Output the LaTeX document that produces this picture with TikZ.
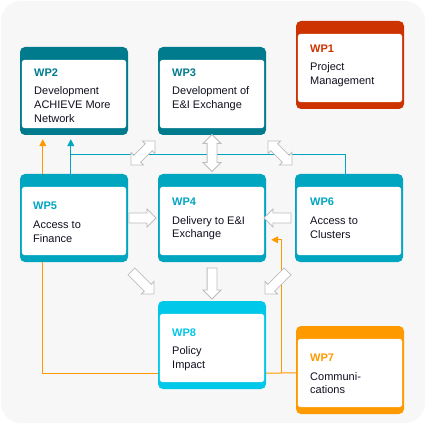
\documentclass[tikz,border=0pt]{standalone}
\usepackage{fontspec}
\setmainfont{Liberation Sans}
\usetikzlibrary{calc,arrows.meta,shapes.arrows}
\definecolor{bgc}{HTML}{F7F7F7}
\definecolor{darkteal}{HTML}{007B8E}
\definecolor{midteal}{HTML}{00A5BF}
\definecolor{lightcyan}{HTML}{00C8E8}
\definecolor{wpred}{HTML}{CC3300}
\definecolor{wporange}{HTML}{FF9900}
\definecolor{txt}{HTML}{101020}
\definecolor{arrgray}{HTML}{BDBDBD}
\newcommand\wpinner[1]{\fill[white,rounded corners=3pt] ($(#1.north west)+(2,13)$) rectangle ($(#1.south east)+(-2,-7)$);}
\tikzset{
  wpbox/.style={rectangle,rounded corners=5pt,minimum width=108pt,minimum height=88pt,inner sep=0pt,draw=none},
  wplabel/.style={anchor=base west,inner sep=0pt,font=\bfseries\fontsize{11}{14}\selectfont},
  wptext/.style={anchor=base west,inner sep=0pt,text=txt,font=\fontsize{11}{14}\selectfont},
  conn/.style={line width=1pt},
  tipx/.style={-{Triangle[width=7pt,length=7pt]}},
  blockone/.style={single arrow,draw=arrgray,fill=white,line width=0.8pt,inner sep=4.5pt,single arrow head extend=4pt,single arrow head indent=0pt,minimum height=27pt},
  blocktwo/.style={double arrow,draw=arrgray,fill=white,line width=0.8pt,inner sep=4.5pt,double arrow head extend=4pt,double arrow head indent=0pt,minimum height=34pt}
}
\begin{document}
\begin{tikzpicture}[x=1pt,y=-1pt]
\useasboundingbox (0,0) rectangle (426,425);
\fill[bgc,rounded corners=20pt] (1,1) rectangle (425,423);

% boxes
\node[wpbox,fill=darkteal] (wp2) at (74,91) {};
\node[wpbox,fill=darkteal] (wp3) at (212,91) {};
\node[wpbox,fill=wpred] (wp1) at (350,65) {};
\node[wpbox,fill=midteal] (wp5) at (74,218) {};
\node[wpbox,fill=midteal] (wp4) at (212,218) {};
\node[wpbox,fill=midteal] (wp6) at (349,218) {};
\node[wpbox,fill=lightcyan] (wp8) at (212,345) {};
\node[wpbox,fill=wporange] (wp7) at (350,370) {};
\wpinner{wp2}\wpinner{wp3}\wpinner{wp1}\wpinner{wp5}\wpinner{wp4}\wpinner{wp6}\wpinner{wp8}\wpinner{wp7}

% connectors
\draw[conn,wporange,tipx] ($(wp5.north west)+(23,0)$) -- ($(wp2.south west)+(23,4)$);
\draw[conn,midteal,tipx] ($(wp5.north west)+(51,0)$) -- ($(wp2.south west)+(51,4)$);
\draw[conn,midteal] ($(wp6.north west)+(51,0)$) -- ++(0,-19) -| ($(wp5.north west)+(51,0)$);
\draw[conn,wporange] ($(wp5.south west)+(23,0)$) |- ($(wp8.south west)+(0,-16)$);
\draw[conn,wporange] ($(wp7.north west)+(0,47)$) -- ($(wp8.south east)+(0,-16)$);
\draw[conn,wporange,tipx] ($(wp7.north west)+(-14,47)$) |- ($(wp4.north east)+(5,66)$);

% texts
\node[wplabel,text=darkteal] (l2) at (34,77) {WP2};
\node[wptext] (t2a) at (34,95) {Development};
\node[wptext] (t2b) at (34,109) {ACHIEVE More};
\node[wptext] (t2c) at (34,123) {Network};

\node[wplabel,text=darkteal] (l3) at (172,77) {WP3};
\node[wptext] (t3a) at (172,95) {Development of};
\node[wptext] (t3b) at (172,109) {E\&I Exchange};

\node[wplabel,text=wpred] (l1) at (310,53) {WP1};
\node[wptext] (t1a) at (310,71) {Project};
\node[wptext] (t1b) at (310,85) {Management};

\node[wplabel,text=midteal] (l5) at (33,210) {WP5};
\node[wptext] (t5a) at (33,229) {Access to};
\node[wptext] (t5b) at (33,243) {Finance};

\node[wplabel,text=midteal] (l4) at (172,206) {WP4};
\node[wptext] (t4a) at (172,224) {Delivery to E\&I};
\node[wptext] (t4b) at (172,237) {Exchange};

\node[wplabel,text=midteal] (l6) at (310,206) {WP6};
\node[wptext] (t6a) at (310,224) {Access to};
\node[wptext] (t6b) at (310,238) {Clusters};

\node[wplabel,text=lightcyan] (l8) at (172,336) {WP8};
\node[wptext] (t8a) at (172,354) {Policy};
\node[wptext] (t8b) at (172,368) {Impact};

\node[wplabel,text=wporange] (l7) at (310,361) {WP7};
\node[wptext] (t7a) at (310,380) {Communi-};
\node[wptext] (t7b) at (310,393) {cations};

% block arrows
\node[blocktwo,rotate=45] (d1) at (143,153) {};
\node[blocktwo,rotate=90,minimum height=37pt] (d2) at (212,153) {};
\node[blocktwo,rotate=-45] (d3) at (280,153) {};
\node[blockone] (s1) at (140,218) {};
\node[blockone,rotate=180] (s2) at (280,218) {};
\node[blockone,rotate=-90,minimum height=31pt] (s3) at (212,281) {};
\node[blockone,rotate=-45,minimum height=32pt] (s4) at (141,281) {};
\node[blockone,rotate=-135,minimum height=32pt] (s5) at (278,281) {};
\end{tikzpicture}
\end{document}
